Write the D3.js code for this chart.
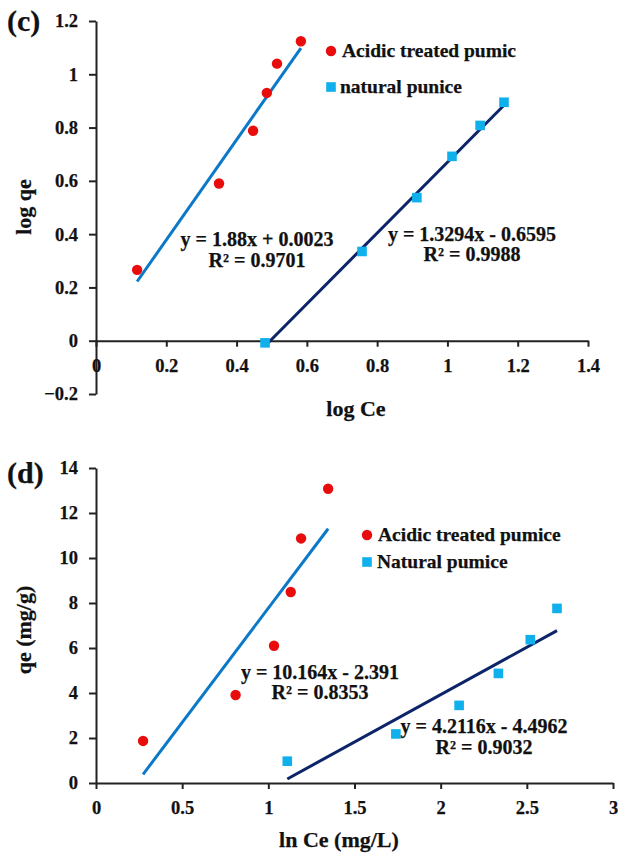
<!DOCTYPE html>
<html><head><meta charset="utf-8">
<script src="https://cdn.jsdelivr.net/npm/d3@7"></script>
<style>
html,body{margin:0;padding:0;background:#fff;}
svg text{font-family:"Liberation Serif","Times New Roman",serif;font-weight:bold;fill:#111;stroke:#111;stroke-width:0.25px;}
</style></head>
<body>
<svg id="chart" width="618" height="859"></svg>
<script>
// ---- Panel (c) data: log Ce vs log qe ----
const cAcidX = [0.117, 0.35, 0.447, 0.486, 0.515, 0.583];
const cAcidY = [0.266, 0.59, 0.788, 0.93, 1.04, 1.124];
const cNatX = [0.481, 0.757, 0.913, 1.013, 1.093, 1.161];
const cNatY = [-0.008, 0.335, 0.537, 0.692, 0.808, 0.895];
const cFit = [{m:1.88, b:0.0023}, {m:1.3294, b:-0.6595}];
const cXTicks = [0, 0.2, 0.4, 0.6, 0.8, 1, 1.2, 1.4];
const cYTicks = [-0.2, 0, 0.2, 0.4, 0.6, 0.8, 1, 1.2];
const cEq = ["y = 1.88x + 0.0023", "R² = 0.9701", "y = 1.3294x - 0.6595", "R² = 0.9988"];
const cLegend = ["Acidic treated pumic", "natural punice"];

// ---- Panel (d) data: ln Ce vs qe ----
const dAcidX = [0.273, 0.81, 1.033, 1.13, 1.19, 1.347];
const dAcidY = [1.87, 3.91, 6.1, 8.49, 10.87, 13.08];
const dNatX = [1.11, 1.74, 2.107, 2.335, 2.52, 2.675];
const dNatY = [0.97, 2.18, 3.45, 4.87, 6.37, 7.76];
const dFit = [{m:10.164, b:-2.391}, {m:4.2116, b:-4.4962}];
const dXTicks = [0, 0.5, 1, 1.5, 2, 2.5, 3];
const dYTicks = [0, 2, 4, 6, 8, 10, 12, 14];
const dEq = ["y = 10.164x - 2.391", "R² = 0.8353", "y = 4.2116x - 4.4962", "R² = 0.9032"];
const dLegend = ["Acidic treated pumice", "Natural pumice"];

const RED = "#e80c0c", CYAN = "#0fb0ec", BLUE = "#0b78c8", NAVY = "#0c2468";
const svg = d3.select("#chart");

function panel(o){
  const g = svg.append("g");
  const x = d3.scaleLinear().domain(o.xd).range(o.xr);
  const y = d3.scaleLinear().domain(o.yd).range(o.yr);
  // axes
  const ya = g.append("g").attr("transform",`translate(${x(0)},0)`)
    .call(d3.axisLeft(y).tickValues(o.yt).tickSize(7).tickSizeOuter(0).tickPadding(11).tickFormat(d3.format("")));
  const xa = g.append("g").attr("transform",`translate(0,${y(0)})`)
    .call(d3.axisBottom(x).tickValues(o.xt).tickSize(6).tickSizeOuter(0).tickPadding(12).tickFormat(d3.format("")));
  [ya,xa].forEach(a=>{
    a.select(".domain").attr("stroke","#222").attr("stroke-width",2);
    a.selectAll(".tick line").attr("stroke","#222").attr("stroke-width",2);
    a.selectAll(".tick text").style("font-size","18.5px").attr("fill","#111");
  });
  // fit lines
  const lines = [[o.ax, o.fit[0], BLUE], [o.nx, o.fit[1], NAVY]];
  lines.forEach(([xs,f,c])=>{
    const x0 = d3.min(xs), x1 = d3.max(xs);
    g.append("line").attr("x1",x(x0)).attr("y1",y(f.m*x0+f.b))
      .attr("x2",x(x1)).attr("y2",y(f.m*x1+f.b))
      .attr("stroke",c).attr("stroke-width",3);
  });
  // points
  g.selectAll("circle.pt").data(d3.zip(o.ax,o.ay)).join("circle")
    .attr("cx",d=>x(d[0])).attr("cy",d=>y(d[1])).attr("r",5.2).attr("fill",RED);
  g.selectAll("rect.pt").data(d3.zip(o.nx,o.ny)).join("rect")
    .attr("x",d=>x(d[0])-4.8).attr("y",d=>y(d[1])-4.8).attr("width",9.6).attr("height",9.6).attr("fill",CYAN);
  // equations
  o.eqPos.forEach((p,i)=>{
    g.append("text").attr("x",p[0]).attr("y",p[1]).attr("text-anchor","middle")
      .style("font-size","20px").text(o.eq[i]);
  });
  // legend
  g.append("circle").attr("cx",o.leg[0]).attr("cy",o.leg[1]).attr("r",5.2).attr("fill",RED);
  g.append("text").attr("x",o.leg[0]+11).attr("y",o.leg[1]+6).style("font-size","19.5px").text(o.legend[0]);
  g.append("rect").attr("x",o.leg[0]-4.8).attr("y",o.leg[2]-4.8).attr("width",9.6).attr("height",9.6).attr("fill",CYAN);
  g.append("text").attr("x",o.leg[0]+o.leg2dx).attr("y",o.leg[2]+6).style("font-size","19.5px").text(o.legend[1]);
  // titles
  g.append("text").attr("x",o.xt0[0]).attr("y",o.xt0[1]).attr("text-anchor","middle")
    .style("font-size","22px").text(o.xTitle);
  g.append("text").attr("transform",`translate(${o.yt0[0]},${o.yt0[1]}) rotate(-90)`).attr("text-anchor","middle")
    .style("font-size","22px").text(o.yTitle);
  g.append("text").attr("x",o.lab[0]).attr("y",o.lab[1]).style("font-size","30px").text(o.label);
}

panel({xd:[0,1.4], xr:[96,588], yd:[-0.2,1.2], yr:[394,21], xt:cXTicks, yt:cYTicks,
  ax:cAcidX, ay:cAcidY, nx:cNatX, ny:cNatY, fit:cFit, eq:cEq,
  eqPos:[[257,246],[257,267],[472,241],[472,261]],
  leg:[331,51,87], leg2dx:9, legend:cLegend,
  xTitle:"log Ce", xt0:[356,416], yTitle:"log qe", yt0:[31,207], label:"(c)", lab:[7,31]});

panel({xd:[0,3], xr:[96,613], yd:[0,14], yr:[783,468], xt:dXTicks, yt:dYTicks,
  ax:dAcidX, ay:dAcidY, nx:dNatX, ny:dNatY, fit:dFit, eq:dEq,
  eqPos:[[320,679],[320,699],[484,733],[484,754]],
  leg:[367,535,562], leg2dx:10, legend:dLegend,
  xTitle:"ln Ce (mg/L)", xt0:[339,847], yTitle:"qe (mg/g)", yt0:[31,630], label:"(d)", lab:[7,483]});
</script>
</body></html>
